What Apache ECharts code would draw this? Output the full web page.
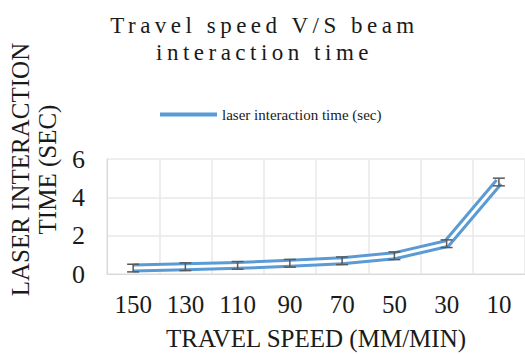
<!DOCTYPE html>
<html>
<head>
<meta charset="utf-8">
<script src="https://cdn.jsdelivr.net/npm/echarts@6/dist/echarts.min.js"></script>
<style>html,body{margin:0;padding:0;background:#fff}#c{width:525px;height:354px}</style>
</head>
<body>
<div id="c"></div>
<script>
var categories = ['150', '130', '110', '90', '70', '50', '30', '10'];
var interactionTime = [0.31, 0.38, 0.45, 0.56, 0.69, 0.95, 1.58, 4.8];
var errorAmount = [0.2, 0.2, 0.2, 0.2, 0.2, 0.2, 0.2, 0.2];
var yTicks = [0, 2, 4, 6];
var seriesName = 'laser interaction time (sec)';
var titleLines = ['Travel speed V/S beam', 'interaction time'];

var serif = "'Liberation Serif', 'Times New Roman', serif";
var chart = echarts.init(document.getElementById('c'), null, { renderer: 'svg' });

var errData = interactionTime.map(function (v, i) {
  return [i, v - errorAmount[i], v + errorAmount[i]];
});

chart.setOption({
  animation: false,
  backgroundColor: '#fff',
  textStyle: { fontFamily: serif },
  title: {
    text: titleLines.join('\n'),
    left: 'center',
    top: 7,
    textStyle: { fontFamily: serif, fontSize: 23, fontWeight: 'normal', color: '#1a1a1a', lineHeight: 27 }
  },
  legend: {
    data: [{ name: seriesName, icon: 'rect' }],
    top: 102,
    left: 155,
    itemWidth: 57,
    itemHeight: 4,
    itemGap: 5,
    textStyle: { fontFamily: serif, fontSize: 15, color: '#1a1a1a' }
  },
  grid: { left: 107, right: 0, top: 159, bottom: 80, containLabel: false, outerBoundsMode: 'none' },
  xAxis: {
    type: 'category',
    data: categories,
    boundaryGap: true,
    axisLine: { show: true, lineStyle: { color: '#d9d9d9', width: 1 } },
    axisTick: { show: false },
    axisLabel: { fontFamily: serif, fontSize: 25, color: '#1a1a1a', margin: 18 },
    splitLine: { show: true, interval: 0, lineStyle: { color: '#e8e8e8', width: 1.5 } },
    name: 'TRAVEL SPEED (MM/MIN)',
    nameLocation: 'middle',
    nameGap: 52,
    nameTextStyle: { fontFamily: serif, fontSize: 25, color: '#1a1a1a' }
  },
  yAxis: {
    type: 'value',
    min: yTicks[0],
    max: yTicks[yTicks.length - 1],
    interval: 2,
    axisLine: { show: true, lineStyle: { color: '#d9d9d9' } },
    axisTick: { show: false },
    axisLabel: { fontFamily: serif, fontSize: 26, color: '#1a1a1a', margin: 22 },
    splitLine: { show: true, lineStyle: { color: '#e8e8e8', width: 1.5 } },
    name: 'LASER INTERACTION\nTIME (SEC)',
    nameLocation: 'middle',
    nameRotate: 90,
    nameGap: 45,
    nameTextStyle: { fontFamily: serif, fontSize: 25, color: '#1a1a1a', lineHeight: 27, padding: [0, 0, 0, 94] }
  },
  series: [
    {
      name: seriesName,
      type: 'line',
      data: interactionTime,
      showSymbol: false,
      symbol: 'none',
      color: '#5b9bd5',
      lineStyle: { color: '#5b9bd5', width: 9, cap: 'butt', join: 'miter' },
      z: 2
    },
    {
      name: 'inner',
      type: 'line',
      data: interactionTime,
      showSymbol: false,
      symbol: 'none',
      lineStyle: { color: '#ffffff', width: 3, cap: 'butt', join: 'miter' },
      z: 3
    },
    {
      name: 'error',
      type: 'custom',
      data: errData,
      z: 4,
      renderItem: function (params, api) {
        var x = api.value(0);
        var lo = api.coord([x, api.value(1)]);
        var hi = api.coord([x, api.value(2)]);
        var hw = 6;
        var st = { stroke: '#595959', lineWidth: 1.5, fill: null };
        return {
          type: 'group',
          children: [
            { type: 'line', shape: { x1: lo[0], y1: lo[1], x2: hi[0], y2: hi[1] }, style: st },
            { type: 'line', shape: { x1: lo[0] - hw, y1: lo[1], x2: lo[0] + hw, y2: lo[1] }, style: st },
            { type: 'line', shape: { x1: hi[0] - hw, y1: hi[1], x2: hi[0] + hw, y2: hi[1] }, style: st }
          ]
        };
      },
      encode: { x: 0, y: [1, 2] }
    }
  ]
});

// widen title letter spacing like the reference
function spaceTitle() {
  var texts = document.querySelectorAll('#c svg text');
  texts.forEach(function (t) {
    if (titleLines.indexOf(t.textContent) >= 0) {
      t.setAttribute('letter-spacing', '4.5px');
      t.style.letterSpacing = '4.5px';
      t.setAttribute('dx', '2');
    }
  });
}
spaceTitle();
chart.on('finished', spaceTitle);
</script>
</body>
</html>
